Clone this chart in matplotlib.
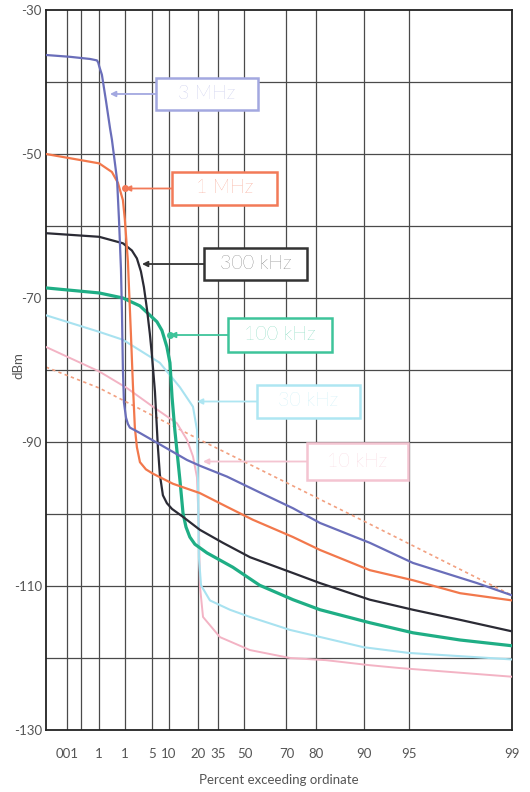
import numpy as np
import matplotlib
matplotlib.use("Agg")
import matplotlib.pyplot as plt
from matplotlib.patches import Rectangle

# ---------------- data ----------------
# x: percent exceeding ordinate, y: dBm
p_3mhz = [1.1e-5, 0.0017, 0.034, 0.078, 0.09, 0.1, 0.134, 0.2, 0.3, 0.353, 0.55, 0.64, 0.75,
          0.81, 0.87, 0.94, 1.09, 1.25, 1.43, 2.67, 6.27, 17.9, 24.6, 40.05, 58, 72.5, 81.1,
          90.9, 95.3, 98.27, 99]
d_3mhz = [-36.25, -36.5, -36.8, -37.0, -37.3, -37.8, -39.0, -42.5, -46.5, -48.0, -53.6, -59.0,
          -66.0, -72.0, -80.0, -84.5, -86.6, -87.5, -88.0, -88.75, -90.1, -92.5, -93.3, -94.8,
          -97.0, -99.2, -101.25, -104.0, -106.8, -109.6, -111.3]

p_1mhz = [1.1e-5, 0.1, 0.353, 0.588, 0.87, 1.0, 1.25, 1.53, 1.74, 1.97, 2.23, 2.67, 3.7, 5.23,
          11.65, 24.6, 40.05, 54.5, 72.5, 81.1, 90.9, 95.3, 97.74, 99]
d_1mhz = [-50.0, -51.3, -52.5, -54.0, -56.4, -59.0, -65.0, -75.0, -82.0, -88.0, -90.7, -92.8,
          -93.8, -94.4, -95.8, -97.1, -99.0, -100.8, -103.2, -105.0, -107.8, -109.2, -111.0,
          -112.0]

p_300k = [1.1e-5, 0.1, 0.87, 1.63, 2.23, 2.82, 3.33, 3.9, 4.52, 5.0, 5.74, 6.54, 7.1, 8.05,
          9.39, 11.3, 16.0, 24.6, 37.7, 53.0, 72.5, 81.1, 90.9, 95.3, 97.74, 99]
d_300k = [-61.0, -61.5, -62.4, -63.4, -64.5, -66.3, -68.5, -71.5, -75.0, -78.0, -83.0, -90.7,
          -94.5, -97.4, -98.5, -99.3, -100.4, -102.2, -104.0, -106.0, -108.2, -109.6, -111.9,
          -113.3, -114.7, -116.3]

p_100k = [1.1e-5, 0.1, 0.87, 2.67, 6.27, 7.74, 9.39, 10.5, 11.3, 12.4, 14.6, 16.0, 17.4, 19.3,
          21.9, 28.5, 43.5, 58, 72.5, 81.1, 90.9, 95.3, 97.74, 99]
d_100k = [-68.6, -69.3, -70.0, -71.1, -73.3, -74.5, -76.8, -79.0, -83.75, -88.3, -95.3, -99.9,
          -101.8, -103.2, -104.2, -105.4, -107.4, -109.9, -111.9, -113.3, -115.1, -116.5,
          -117.5, -118.3]

p_30k = [1.1e-5, 0.1, 0.87, 7.1, 14.6, 20.9, 23.0, 23.5, 24.05, 25.2, 30.2, 41.8, 53.0, 71.4,
         90.0, 95.0, 99]
d_30k = [-72.4, -74.7, -75.8, -79.0, -82.4, -85.1, -88.3, -95.0, -106.0, -109.9, -112.0,
         -113.3, -114.3, -116.1, -118.5, -119.3, -120.2]

p_10k = [1.1e-5, 0.1, 1.16, 5.23, 13.3, 17.9, 20.9, 23.0, 24.05, 24.6, 26.3, 36.0, 53.0, 71.4,
         82.6, 90.9, 94.25, 99]
d_10k = [-76.8, -80.2, -82.5, -85.1, -87.4, -89.7, -92.0, -94.9, -102.0, -110.0, -114.3,
         -117.1, -118.9, -120.0, -120.3, -121.0, -121.4, -122.6]

p_ref = [1.1e-5, 0.1, 24.6, 58, 90.9, 99]
d_ref = [-79.6, -82.5, -89.7, -93.8, -101.4, -111.3]

x_ticks = [0.001, 0.01, 0.1, 1, 5, 10, 23.5, 35, 50, 70, 80, 90, 95, 99]
x_labels = ["001", "", "1", "1", "5", "10", "20", "35", "50", "70", "80", "90", "95", "99"]
y_ticks = [-30, -50, -70, -90, -110, -130]
y_labels = ["-30", "-50", "-70", "-90", "-110", "-130"]
y_grid = [-40, -60, -80, -100, -120]

labels = ["3 MHz", "1 MHz", "300 kHz", "100 kHz", "30 kHz", "10 kHz"]

# ---------------- style ----------------
plt.rcParams['font.family'] = ['Lato', 'DejaVu Sans']

def fwd(p):
    p = np.clip(np.asarray(p, dtype=float), 1e-12, 99.99999)
    return -np.log10(-np.log(p / 100.0))

def inv(x):
    return 100.0 * np.exp(-10.0 ** (-np.asarray(x, dtype=float)))

fig = plt.figure(figsize=(5.3, 7.92), dpi=100)
ax = fig.add_axes([46 / 530, 62 / 792, 466 / 530, 720 / 792])
ax.set_xscale('function', functions=(fwd, inv))
ax.set_xlim(1.1e-5, 99)
ax.set_ylim(-130, -30)

grid_c = '#4a4a4a'
for xv in x_ticks[:-1]:
    ax.axvline(xv, color=grid_c, lw=0.9, zorder=1)
for yv in y_ticks[1:-1] + y_grid:
    ax.axhline(yv, color=grid_c, lw=0.9, zorder=1)

ax.set_xticks(x_ticks)
ax.set_xticklabels(x_labels)
ax.set_yticks(y_ticks)
ax.set_yticklabels(y_labels)
ax.minorticks_off()
ax.tick_params(axis='both', length=0, labelsize=9.5, labelcolor='#555555')
ax.tick_params(axis='x', pad=13)
ax.tick_params(axis='y', pad=3)
for s in ax.spines.values():
    s.set_color('#222222')
    s.set_linewidth(1.3)

ax.set_xlabel("Percent exceeding ordinate", fontsize=9.5, color='#555555', labelpad=10)
fig.text(18 / 530, 1 - 366 / 792, "dBm", rotation=90, ha='center', va='center',
         fontsize=9.5, color='#555555')

# ---------------- curves ----------------
ax.plot(p_ref, d_ref, color='#f2a080', lw=1.2, ls=(0, (2, 2)), zorder=2)
ax.plot(p_10k, d_10k, color='#f3b3c4', lw=1.4, zorder=3)
ax.plot(p_30k, d_30k, color='#a8e2f0', lw=1.5, zorder=3)
ax.plot(p_100k, d_100k, color='#1fae85', lw=2.3, zorder=4)
ax.plot(p_300k, d_300k, color='#2b2b35', lw=1.6, zorder=4)
ax.plot(p_1mhz, d_1mhz, color='#f2784c', lw=1.6, zorder=4)
ax.plot(p_3mhz, d_3mhz, color='#6a6eba', lw=1.6, zorder=5)

# ---------------- labels with boxes ----------------
boxes = [  # (left, right, top, bottom, tip_x) in axes fraction
    (0.2361, 0.4549, 0.9056, 0.8611, 0.1373),
    (0.2704, 0.4957, 0.7750, 0.7292, 0.1695),
    (0.3391, 0.5601, 0.6694, 0.6250, 0.2060),
    (0.3906, 0.6137, 0.5722, 0.5250, 0.2661),
    (0.4528, 0.6738, 0.4792, 0.4333, 0.3240),
    (0.5601, 0.7768, 0.3986, 0.3472, 0.3369),
]
text_cols = ['#a3a8e0', '#f26b4a', '#333333', '#3ec49a', '#aee6f2', '#f4bccb']
edge_cols = ['#a3a8e0', '#f27a58', '#333333', '#3ec49a', '#aee6f2', '#f4c4d1']
dots = [False, True, False, True, False, False]

for lab, (l, r, t, b, tip), tc, ec, dot in zip(labels, boxes, text_cols, edge_cols, dots):
    cy = (t + b) / 2
    ax.add_patch(Rectangle((l, b), r - l, t - b, transform=ax.transAxes, fc='white',
                           ec=ec, lw=1.8, zorder=7))
    ax.text((l + r) / 2, cy, lab, transform=ax.transAxes, ha='center', va='center',
            fontsize=14, color=tc, fontweight='light', zorder=8)
    ax.annotate('', xy=(tip, cy), xycoords='axes fraction', xytext=(l, cy),
                textcoords='axes fraction',
                arrowprops=dict(arrowstyle='-|>', color=ec, lw=1.3, mutation_scale=8,
                                shrinkA=0, shrinkB=0), zorder=6)
    if dot:
        ax.plot([tip], [cy], 'o', ms=4, color=ec, transform=ax.transAxes, zorder=6)

fig.savefig("out.png", dpi=100)
